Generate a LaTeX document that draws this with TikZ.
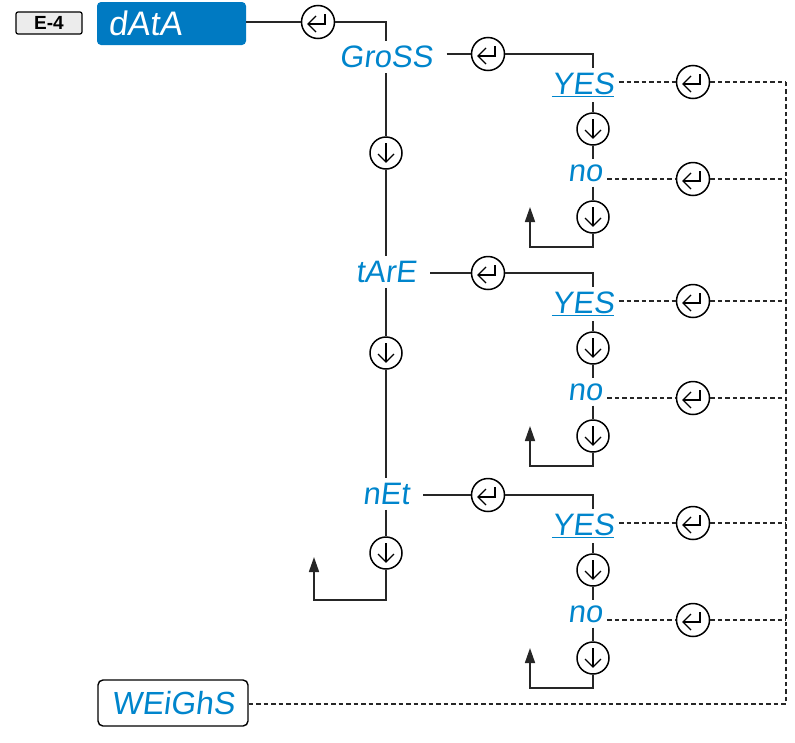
\documentclass[tikz,border=0pt]{standalone}
\usepackage{fontspec}
\setmainfont{Liberation Sans}
\newfontfamily\segfont[FakeSlant=0.12]{Liberation Sans}
\usetikzlibrary{arrows.meta,calc}
\definecolor{ColPanel}{RGB}{0,122,194}
\definecolor{ColSeg}{RGB}{0,133,204}
\definecolor{ColKey}{RGB}{236,236,236}

\begin{document}
\begin{tikzpicture}[
  x=1pt, y=-1pt,
  >={Triangle[length=15pt,width=10pt]},
  line join=miter,
  seg/.style={font=\segfont\fontsize{31}{31}\selectfont, text=ColSeg, inner xsep=14pt, inner ysep=5pt},
  opt/.style={font=\segfont\fontsize{31}{31}\selectfont, text=ColSeg, inner xsep=5pt, inner ysep=5pt},
  flow/.style={line width=1.7pt, black!85},
  alt/.style={line width=1.7pt, black!85, dash pattern=on 4.5pt off 3pt},
  enterkey/.style={circle, draw, line width=1.5pt, minimum size=33pt, inner sep=0pt,
    path picture={
      \draw[line width=1.3pt] ([shift={(7pt,8pt)}]path picture bounding box.center)
        -- ([shift={(7pt,-2pt)}]path picture bounding box.center)
        -- ([shift={(-10pt,-2pt)}]path picture bounding box.center);
      \draw[line width=1.3pt] ([shift={(-2pt,6pt)}]path picture bounding box.center)
        -- ([shift={(-10pt,-2pt)}]path picture bounding box.center)
        -- ([shift={(-2pt,-10pt)}]path picture bounding box.center);}},
  downkey/.style={circle, draw, line width=1.5pt, minimum size=32pt, inner sep=0pt,
    path picture={
      \draw[line width=1.3pt] ([shift={(0pt,10pt)}]path picture bounding box.center)
        -- ([shift={(0pt,-9pt)}]path picture bounding box.center);
      \draw[line width=1.3pt] ([shift={(-8pt,-1pt)}]path picture bounding box.center)
        -- ([shift={(0pt,-9pt)}]path picture bounding box.center)
        -- ([shift={(8pt,-1pt)}]path picture bounding box.center);}}
]
  \useasboundingbox (0,0) rectangle (795,742);

  % menu header
  \node[draw, rounded corners=2pt, fill=ColKey, line width=1.2pt, minimum width=66pt,
    minimum height=22pt, inner sep=0pt, font=\bfseries\fontsize{19}{19}\selectfont] (key) at (49,23) {E-4};
  \node[rounded corners=4pt, fill=ColPanel, text=white, minimum height=43pt, inner xsep=11pt,
    text width=127pt, align=left, font=\segfont\fontsize{34}{34}\selectfont] (data) at (171.5,23.5) {dAtA};
  \node[enterkey] (entD) at (318,22) {};

  % parameter spine
  \node[seg] (p1) at (386,57) {GroSS};
  \node[seg] (p2) at (386,272) {tArE};
  \node[seg] (p3) at (386,494) {nEt};
  \node[downkey] (dnA) at (386,153) {};
  \node[downkey] (dnB) at (386,353) {};
  \node[downkey] (dnC) at (386,553) {};
  \coordinate (spb) at (386,600);
  \coordinate (spr) at (314,600);
  \coordinate (spt) at (314,557);

  \draw[flow] (data.east |- entD) -- (entD) -| (p1.north);
  \draw[flow] (p1.south) -- (dnA) -- (p2.north);
  \draw[flow] (p2.south) -- (dnB) -- (p3.north);
  \draw[flow,->] (p3.south) -- (dnC) -- (spb) -- (spr) -- (spt);

  % dashed exit rail
  \coordinate (railtop) at (786,82);
  \coordinate (railbot) at (786,704);
  \node[draw, rounded corners=5pt, line width=1.4pt, minimum width=150pt, minimum height=46pt,
    inner sep=0pt, text=ColSeg, font=\segfont\fontsize{32}{32}\selectfont] (weighs) at (173,703) {WEiGhS};
  \draw[alt] (weighs.east |- railbot) -- (railbot) -- (railtop);

  % YES / no choice for each parameter
  \foreach \i/\y in {1/54, 2/273, 3/495}{
    \node[enterkey] (pe\i) at (488,\y) {};
    \node[opt] (yes\i) at (583,\y+31) {\underline{YES}};
    \node[downkey] (yd\i) at (593,\y+75) {};
    \node[opt] (no\i) at (585,\y+119) {no};
    \node[downkey] (nd\i) at (593,\y+163) {};
    \coordinate (nb\i) at (593,\y+193);
    \coordinate (nl\i) at (530,\y+193);
    \coordinate (nt\i) at (530,\y+153);
    \node[enterkey] (ye\i) at (693,\y+28) {};
    \node[enterkey] (ne\i) at (693,\y+125) {};

    \draw[flow] (p\i.east |- pe\i) -- (pe\i) -| (yd\i |- yes\i.north);
    \draw[flow] (yd\i |- yes\i.south) -- (yd\i) -- (nd\i |- no\i.north);
    \draw[flow,->] (nd\i |- no\i.south) -- (nd\i) -- (nb\i) -- (nl\i) -- (nt\i);
    \draw[alt] (yes\i.east |- ye\i) -- (ye\i) -- (ye\i -| railtop);
    \draw[alt] (no\i.east |- ne\i) -- (ne\i) -- (ne\i -| railtop);
  }
\end{tikzpicture}
\end{document}
